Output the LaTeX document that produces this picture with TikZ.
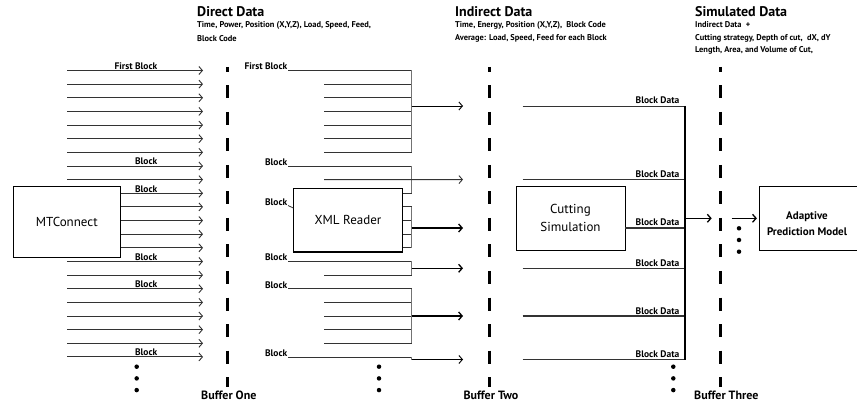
\documentclass[tikz,border=0pt]{standalone}
\usepackage{fontspec}
\setmainfont{PT Sans}
\usetikzlibrary{arrows.meta, calc}

\newcommand{\rowy}[1]{(70.5+13.64*#1)}

\begin{document}
\begin{tikzpicture}[
    x=1pt, y=-1pt,
    box/.style={draw, line width=0.8pt, font=\fontsize{13}{18}\selectfont, align=center, inner sep=0pt},
    feed/.style={line width=0.8pt, black!80},
    bus/.style={line width=0.8pt, black!55},
    arrow/.style={-{Straight Barb[length=3.5pt, width=8pt]}, line width=0.9pt},
    thickarrow/.style={arrow, line width=1.3pt},
    buffer/.style={line width=3pt, dash pattern=on 13pt off 13.5pt, dash phase=8pt},
    blocklbl/.style={font=\fontsize{9.5}{10}\selectfont\bfseries, inner sep=0.5pt, anchor=base east},
    datalbl/.style={font=\fontsize{9.5}{10}\selectfont\bfseries, inner sep=0.5pt, anchor=base east},
    head/.style={font=\fontsize{14}{16}\selectfont\bfseries, inner sep=0pt, anchor=base west},
    note/.style={font=\fontsize{8.4}{9}\selectfont\bfseries, inner sep=0pt, anchor=base west},
    buflbl/.style={font=\fontsize{12}{13}\selectfont\bfseries, inner sep=0pt, anchor=base west},
    dot/.style={circle, fill, inner sep=0pt, minimum size=4.5pt},
]
\useasboundingbox (0,0) rectangle (857,406);

% headings
\node[head] (dd) at (197,16.5) {Direct Data};
\node[note] (dd1) at (197,28) {Time, Power, Position (X,Y,Z), Load, Speed, Feed,};
\node[note] (dd2) at (197,41.5) {Block Code};
\node[head] (id) at (455,16.5) {Indirect Data};
\node[note] (id1) at (455,28) {Time, Energy, Position (X,Y,Z), \ Block Code};
\node[note] (id2) at (455,40.5) {Average: Load, Speed, Feed for each Block};
\node[head] (sd) at (695,16.5) {Simulated Data};
\node[note] (sd1) at (695,28) {Indirect Data \ +};
\node[note] (sd2) at (695,40.5) {Cutting strategy, Depth of cut, \ dX, dY};
\node[note] (sd3) at (695,53) {Length, Area, and Volume of Cut,};

% buffers
\foreach \x/\n/\t in {227/one/Buffer One, 489.3/two/Buffer Two, 720/three/Buffer Three}{
    \coordinate (\n top) at (\x,67);
    \coordinate (\n bot) at (\x,387);
    \draw[buffer] (\n top) -- (\n bot);
    \node[buflbl] (\n lbl) at (\x-26,399) {\t};
}

% boxes
\node[box, minimum width=107.7pt, minimum height=70.8pt] (mtc) at (66.8,222.1) {MTConnect};
\node[box, minimum width=109.4pt, minimum height=63.4pt] (xml) at (348,220) {XML Reader};
\draw[line width=1.8pt] (xml.south west) -- (xml.south east);
\node[box, minimum width=109pt, minimum height=63.3pt] (sim) at (570.5,218.3) {Cutting\\Simulation};
\node[box, minimum width=110pt, minimum height=63.3pt] (apm) at (814.3,218.3) {};
\node[font=\fontsize{11}{16}\selectfont\bfseries, align=center] (apmtext) at (807,224) {Adaptive\\Prediction Model};

% MTConnect output rows
\foreach \i in {0,...,21}{
    \coordinate (in\i) at (67, {\rowy{\i}});
    \coordinate (out\i) at (203, {\rowy{\i}});
}
\foreach \i in {9,...,13}
    \coordinate (in\i) at (mtc.east |- out\i);
\foreach \i in {0,...,21}
    \draw[feed, arrow] (in\i) -- (out\i);
\foreach \i/\t in {0/First Block, 7/Block, 9/Block, 14/Block, 16/Block, 21/Block}
    \node[blocklbl] (inlbl\i) at ($(out\i)+(-45,-1)$) {\t};
\foreach \d in {1,2,3}
    \node[dot] (ldot\d) at (136.7, {355+11.7*\d}) {};

% XML reader rows
\foreach \i in {0,...,21}{
    \coordinate (p\i) at (324, {\rowy{\i}});
    \coordinate (q\i) at (411.7, {\rowy{\i}});
}
\foreach \i/\t in {0/First Block, 7/Block, 14/Block, 16/Block, 21/Block}{
    \coordinate (p\i) at (288, {\rowy{\i}});
    \node[blocklbl] (mlbl\i) at ($(p\i)+(0,-0.5)$) {\t};
}
\foreach \i in {9,...,13}
    \coordinate (p\i) at (xml.east |- q\i);
\foreach \i in {0,...,7,9,10,...,21}
    \draw[feed] (p\i) -- (q\i);
\node[blocklbl] (mlbl9) at (288,205.5) {Block};
\coordinate (hook) at (293.3,208);
\draw[feed] (mlbl9.base east) -- (hook);

\draw[bus] (q0) -- (q6);
\draw[bus] (q7) -- (q9);
\draw[bus] (q10) -- (q13);
\draw[bus] (q14) -- (q15);
\draw[bus] (q16) -- (q20);

\foreach \n/\y in {a/106, b/179.6, c/228, d/268.3, e/316, f/359.5}{
    \coordinate (m\n) at (411.7,\y);
    \coordinate (t\n) at (463,\y);
}
\draw[bus] (q21) -- (mf);
\draw[arrow] (ma) -- (ta);
\draw[feed, arrow] (p8) -- (tb);
\draw[thickarrow] (mc) -- (tc);
\draw[thickarrow] (md) -- (td);
\draw[thickarrow] (me) -- (te);
\draw[arrow] (mf) -- (tf);
\foreach \d in {1,2,3}
    \node[dot] (mdot\d) at (379, {355+11.7*\d}) {};

% cutting simulation rows
\foreach \n in {a,b,c,d,e,f}{
    \coordinate (u\n) at ($(t\n)+(59.7,0)$);
    \coordinate (v\n) at ($(t\n)+(222,0)$);
}
\coordinate (uc) at (sim.east |- tc);
\foreach \n in {a,b,f}
    \draw[feed] (u\n) -- (v\n);
\foreach \n in {c,d,e}
    \draw[feed, line width=1.3pt] (u\n) -- (v\n);
\foreach \n in {a,b,c,d,e,f}
    \node[datalbl] (dl\n) at ($(v\n)+(-5,-2)$) {Block Data};
\draw[line width=1.1pt] (va) -- (vf);
\foreach \d in {1,2,3}
    \node[dot] (rdot\d) at (673.3, {355+11.7*\d}) {};

% to the prediction model
\coordinate (join) at (685,218.3);
\coordinate (buf3in) at (711.7,218.3);
\coordinate (buf3out) at (731.7,218.3);
\draw[thickarrow] (join) -- (buf3in);
\draw[thickarrow] (buf3out) -- ([xshift=-2pt]apm.west);
\foreach \d in {1,2,3}
    \node[dot] (pdot\d) at (739, {216.6+11.7*\d}) {};

\end{tikzpicture}
\end{document}
